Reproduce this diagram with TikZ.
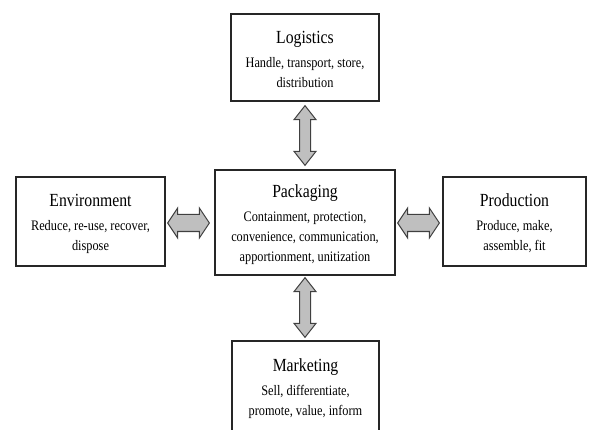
\documentclass[tikz,border=0pt]{standalone}
\usepackage{fontspec}
\setmainfont{Liberation Serif}[FakeStretch=0.85]
\usetikzlibrary{calc}
\tikzset{
  box/.style={draw=black!85, line width=1.3pt, fill=white, align=center,
    inner sep=2pt, font=\fontsize{14.5}{20}\selectfont},
  fatarrow/.style={draw=black!75, line width=1pt, fill=black!25, line join=miter}
}
\newcommand\ttl[1]{{\fontsize{18.5}{22}\selectfont\rule{0pt}{17pt}#1}\\[4pt]}
\begin{document}
\begin{tikzpicture}[x=1pt,y=1pt]
\useasboundingbox (0,0) rectangle (589,429);
\clip (0,0) rectangle (589,429);
\node[box, minimum width=148pt, minimum height=87pt] (log) at (305,371.5)
  {\ttl{Logistics}Handle, transport, store,\\ distribution};
\node[box, minimum width=180pt, minimum height=105pt] (pack) at (305,206.5)
  {\ttl{Packaging}Containment, protection,\\ convenience, communication,\\ apportionment, unitization};
\node[box, minimum width=149pt, minimum height=89pt] (env) at (90.5,207.5)
  {\ttl{Environment}Reduce, re-use, recover,\\ dispose};
\node[box, minimum width=143pt, minimum height=89pt] (prod) at (514.5,207.5)
  {\ttl{Production}Produce, make,\\ assemble, fit};
\node[box, minimum width=147pt, minimum height=91pt] (mark) at (305.5,42.5)
  {\ttl{Marketing}Sell, differentiate,\\ promote, value, inform};
% vertical arrows
\draw[fatarrow] let \p1=($(log.south)+(0,-4pt)$), \p2=($(pack.north)+(0,4pt)$) in
  (\x1,\y1) -- (\x1+11pt,\y1-14pt) -- (\x1+5.5pt,\y1-14pt) -- (\x1+5.5pt,\y2+14pt)
  -- (\x1+11pt,\y2+14pt) -- (\x1,\y2) -- (\x1-11pt,\y2+14pt) -- (\x1-5.5pt,\y2+14pt)
  -- (\x1-5.5pt,\y1-14pt) -- (\x1-11pt,\y1-14pt) -- cycle;
\draw[fatarrow] let \p1=($(pack.south)+(0,-2pt)$), \p2=($(mark.north)+(0,3pt)$) in
  (\x1,\y1) -- (\x1+11pt,\y1-14pt) -- (\x1+5.5pt,\y1-14pt) -- (\x1+5.5pt,\y2+14pt)
  -- (\x1+11pt,\y2+14pt) -- (\x1,\y2) -- (\x1-11pt,\y2+14pt) -- (\x1-5.5pt,\y2+14pt)
  -- (\x1-5.5pt,\y1-14pt) -- (\x1-11pt,\y1-14pt) -- cycle;
% horizontal arrows
\draw[fatarrow] let \p1=($(env.east)+(2pt,-1.5pt)$), \p2=($(pack.west)+(-5pt,0)$) in
  (\x1,\y1) -- (\x1+10pt,\y1+15pt) -- (\x1+10pt,\y1+8.5pt) -- (\x2-10pt,\y1+8.5pt)
  -- (\x2-10pt,\y1+15pt) -- (\x2,\y1) -- (\x2-10pt,\y1-15pt) -- (\x2-10pt,\y1-8.5pt)
  -- (\x1+10pt,\y1-8.5pt) -- (\x1+10pt,\y1-15pt) -- cycle;
\draw[fatarrow] let \p1=($(pack.east)+(2pt,-0.5pt)$), \p2=($(prod.west)+(-3pt,0)$) in
  (\x1,\y1) -- (\x1+10pt,\y1+15pt) -- (\x1+10pt,\y1+8.5pt) -- (\x2-10pt,\y1+8.5pt)
  -- (\x2-10pt,\y1+15pt) -- (\x2,\y1) -- (\x2-10pt,\y1-15pt) -- (\x2-10pt,\y1-8.5pt)
  -- (\x1+10pt,\y1-8.5pt) -- (\x1+10pt,\y1-15pt) -- cycle;
\end{tikzpicture}
\end{document}
